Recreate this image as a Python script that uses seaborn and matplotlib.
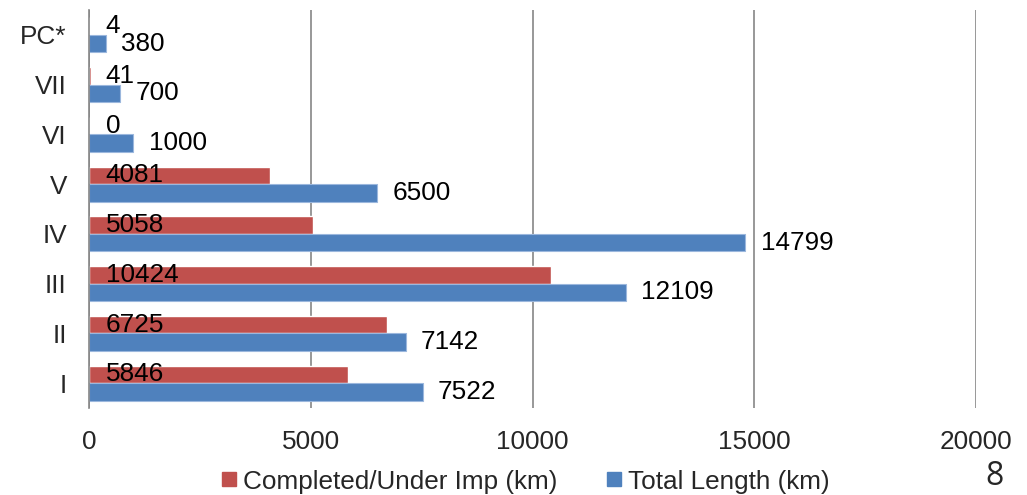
import matplotlib
matplotlib.use("Agg")
import matplotlib.pyplot as plt
from matplotlib.lines import Line2D
import seaborn as sns
import pandas as pd

# Datos del gráfico (de arriba hacia abajo)
phases = ["PC*", "VII", "VI", "V", "IV", "III", "II", "I"]
completed = [4, 41, 0, 4081, 5058, 10424, 6725, 5846]
total = [380, 700, 1000, 6500, 14799, 12109, 7142, 7522]
series = ["Completed/Under Imp (km)", "Total Length (km)"]
x_ticks = [0, 5000, 10000, 15000, 20000]
page_number = "8"

red = "#C0504D"
blue = "#4F81BD"
fs = 18.8

df = pd.DataFrame({
    "phase": phases * 2,
    "km": completed + total,
    "series": [series[0]] * len(phases) + [series[1]] * len(phases),
})

sns.set_style("white")
plt.rcParams["font.family"] = ["Liberation Sans", "DejaVu Sans"]

fig, ax = plt.subplots(figsize=(10.27, 4.95), dpi=100)
fig.subplots_adjust(left=89 / 1027, right=976 / 1027, top=1 - 10 / 495, bottom=1 - 408 / 495)

sns.barplot(data=df, y="phase", x="km", hue="series", order=phases,
            hue_order=series, palette=[red, blue], orient="h",
            width=0.7, ax=ax, legend=False, saturation=1)

# Bordes claros en las barras azules
for p in ax.containers[1]:
    p.set_edgecolor("#9BB7DD")
    p.set_linewidth(0.8)

ax.set_xlim(0, 20000)
ax.set_ylim(len(phases) - 0.5, -0.5)
ax.set_xticks(x_ticks)
ax.set_xticklabels([str(t) for t in x_ticks])
ax.set_xlabel("")
ax.set_ylabel("")
ax.tick_params(axis="x", length=0, pad=16, labelsize=fs)
ax.tick_params(axis="y", length=0, pad=16, labelsize=fs)

ax.xaxis.grid(True, color="#868686", linewidth=1.2)
ax.set_axisbelow(True)
for s in ["top", "right", "bottom"]:
    ax.spines[s].set_visible(False)
ax.spines["left"].set_color("#868686")
ax.spines["left"].set_linewidth(1.2)

# Etiquetas de datos
for bar, val in zip(ax.containers[0], completed):
    yc = bar.get_y() + bar.get_height() / 2
    ax.annotate(str(val), xy=(0, yc), xytext=(12, 0), textcoords="offset points",
                ha="left", va="center", fontsize=fs, color="black")
ax.bar_label(ax.containers[1], labels=[str(v) for v in total], padding=11,
             fontsize=fs, color="black")

handles = [Line2D([], [], marker="s", linestyle="none", color=c, markersize=10)
           for c in [red, blue]]
fig.legend(handles, series, loc="center", bbox_to_anchor=(0.512, 0.027), ncol=2,
           frameon=False, fontsize=fs, handlelength=0.55, handletextpad=0.25,
           columnspacing=1.9, borderaxespad=0)

fig.text(0.968, 0.004, page_number, ha="center", va="bottom", fontsize=23,
         family=["Open Sans", "DejaVu Sans"])

fig.savefig("out.png", dpi=100)
